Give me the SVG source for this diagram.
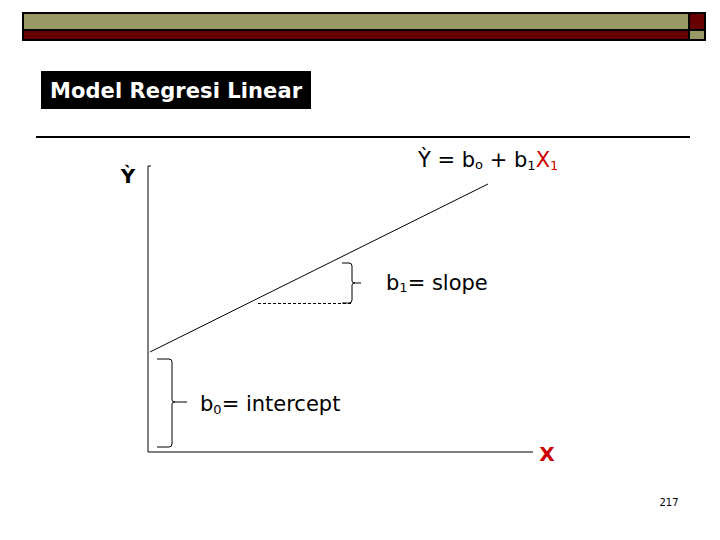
<svg xmlns="http://www.w3.org/2000/svg" width="720" height="540" viewBox="0 0 720 540">
<style>
.t{font-family:"DejaVu Sans",Verdana,sans-serif;fill:#000}
.ln{stroke:#000;stroke-width:1;fill:none}
</style>
<rect width="720" height="540" fill="#fff"/>
<g id="banner">
<rect x="22" y="12" width="684" height="29" fill="#000"/>
<rect x="24" y="14" width="664" height="15" fill="#999966"/>
<rect x="24" y="31" width="664" height="8" fill="#660000"/>
<rect x="690" y="14" width="14" height="15" fill="#660000"/>
<rect x="690" y="31" width="14" height="8" fill="#999966"/>
</g>
<g id="title">
<rect x="41" y="71" width="270" height="38" fill="#000"/>
<text class="t" x="50" y="98" font-size="21" font-weight="bold" fill="#fff" style="fill:#fff" textLength="252">Model Regresi Linear</text>
</g>
<line x1="36" y1="137" x2="690" y2="137" stroke="#000" stroke-width="2"/>
<g id="axes">
<path class="ln" d="M151,166 H148 V452 H533"/>
<text class="t" x="128" y="183" font-size="20" font-weight="bold" text-anchor="middle">Ỳ</text>
<text x="547" y="461" font-family="'DejaVu Sans',Verdana,sans-serif" font-size="20" font-weight="bold" fill="#cc0000" text-anchor="middle">X</text>
</g>
<g id="regression-line">
<line class="ln" x1="150" y1="352" x2="488" y2="184"/>
<text class="t" x="418" y="167" font-size="21">Ỳ = b<tspan font-size="13" dy="2">o</tspan><tspan dy="-2"> + b</tspan><tspan font-size="13" dy="3">1</tspan><tspan dy="-3" fill="#cc0000">X</tspan><tspan font-size="13" dy="3" fill="#cc0000">1</tspan></text>
</g>
<g id="slope">
<line x1="258" y1="303.5" x2="352" y2="303.5" stroke="#000" stroke-width="1" stroke-dasharray="3,2"/>
<path class="ln" d="M342,263 H349 Q352,263 352,266 V281 Q352,283 355,283 H361 M355,283 Q352,283 352,285 V300 Q352,303 349,303 H342"/>
<text class="t" x="386" y="290" font-size="21">b<tspan font-size="13" dy="2">1</tspan><tspan dy="-2">= slope</tspan></text>
</g>
<g id="intercept">
<path class="ln" d="M157,359 H169 Q172,359 172,362 V400 Q172,402 175,402 H187 M175,402 Q172,402 172,404 V444 Q172,447 169,447 H157"/>
<text class="t" x="200" y="411" font-size="21">b<tspan font-size="13" dy="3">0</tspan><tspan dy="-3">= intercept</tspan></text>
</g>
<text class="t" x="669" y="506" font-size="10" text-anchor="middle">217</text>
</svg>
